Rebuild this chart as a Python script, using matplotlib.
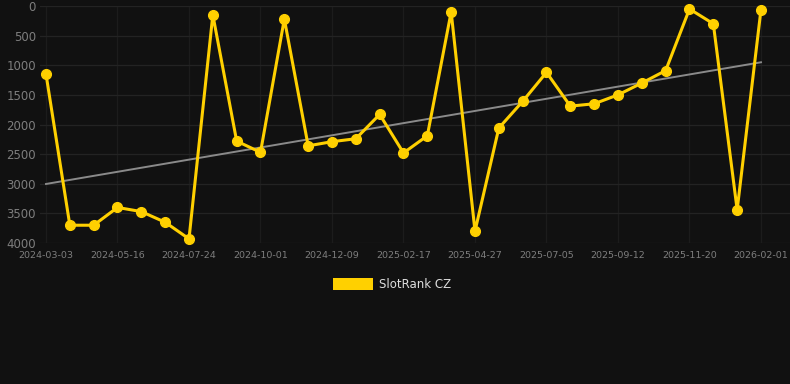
import matplotlib
matplotlib.use("Agg")
import matplotlib.pyplot as plt
from matplotlib.patches import Rectangle
import numpy as np

values = [1150, 3700, 3700, 3400, 3470, 3650, 3930, 150, 2280, 2470, 220,
          2360, 2290, 2240, 1830, 2480, 2190, 100, 3800, 2060,
          1610, 1120, 1690, 1650, 1500, 1300, 1090, 50, 300, 3440, 60]
tick_labels = ["2024-03-03", "2024-05-16", "2024-07-24", "2024-10-01", "2024-12-09",
               "2025-02-17", "2025-04-27", "2025-07-05", "2025-09-12", "2025-11-20",
               "2026-02-01"]
y_ticks = [0, 500, 1000, 1500, 2000, 2500, 3000, 3500, 4000]
series_name = "SlotRank CZ"

W, H = 790, 384
fig = plt.figure(figsize=(W / 100, H / 100), dpi=100)
bg = "#111111"
fig.patch.set_facecolor(bg)

x_left, x_right, y_top, y_bot = 40, 790, 6, 243
ax = fig.add_axes([x_left / W, 1 - y_bot / H, (x_right - x_left) / W, (y_bot - y_top) / H])
ax.set_facecolor(bg)

x = np.arange(len(values))
step = 23.833
ax.set_xlim((x_left - 46) / step, (x_right - 46) / step)
ax.set_ylim(4000, 0)

ax.set_yticks(y_ticks)
ax.set_yticklabels([str(v) for v in y_ticks])
ax.set_xticks(x[::3])
ax.set_xticklabels(tick_labels)
ax.grid(True, axis="y", color="#232323", linewidth=0.9)
ax.grid(True, axis="x", color="#1c1c1c", linewidth=0.9)
ax.set_axisbelow(True)
for s in ax.spines.values():
    s.set_visible(False)
ax.tick_params(axis="both", length=0, colors="#7e7e7e")
ax.tick_params(axis="y", labelsize=8.5, pad=3)
ax.tick_params(axis="x", labelsize=6.8, pad=6)

# trend line (linear regression)
coef = np.polyfit(x, values, 1)
ax.plot([x[0], x[-1]], np.polyval(coef, [x[0], x[-1]]), color="#8a8a8a",
        linewidth=1.4, zorder=2)

gold = "#FFD000"
ax.plot(x, values, color=gold, linewidth=2.2, marker="o", markersize=7,
        markerfacecolor=gold, markeredgecolor=gold, solid_joinstyle="miter",
        zorder=3, clip_on=False)

# legend
fig.add_artist(Rectangle((333 / W, 1 - 290 / H), 40 / W, 12 / H,
                         transform=fig.transFigure, facecolor=gold, edgecolor="none"))
fig.text(379 / W, 1 - 284.5 / H, series_name, color="#dddddd", fontsize=8.5,
         va="center", ha="left")

fig.savefig("out.png", dpi=100, facecolor=bg)
